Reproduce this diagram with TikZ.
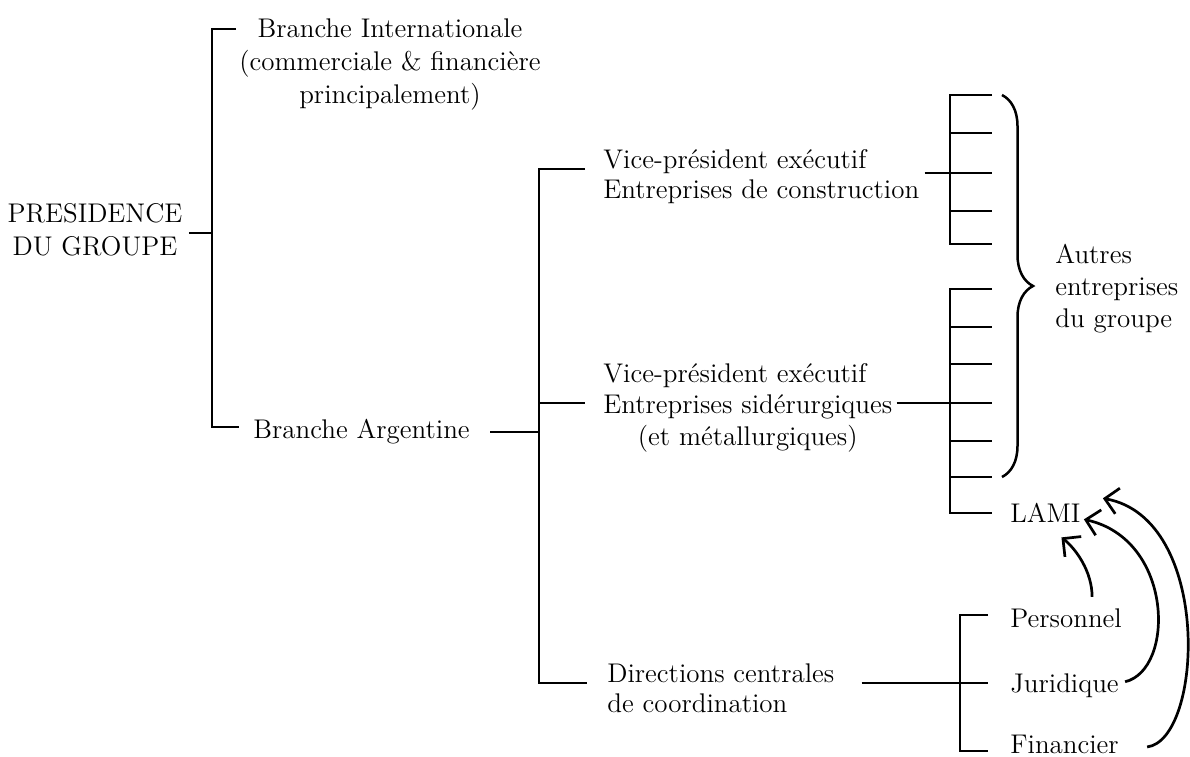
\documentclass[tikz,border=0pt]{standalone}
\usetikzlibrary{arrows.meta,decorations.pathreplacing}
\newcommand\blk[2]{\begin{tabular}[t]{@{}#1@{}}#2\end{tabular}}
\begin{document}
\begin{tikzpicture}[x=0.5pt,y=-0.5pt,
  every node/.style={inner sep=0pt,font=\fontsize{13.5}{15.25}\selectfont},
  br/.style={line width=1.35pt},
  ln/.style={line width=1pt},
  arr/.style={line width=1.35pt,-{Straight Barb[length=6.5pt,width=13pt,line width=1.35pt]}},
  bracestyle/.style={line width=1.25pt,decorate,decoration={brace,amplitude=15.5pt}}]
\useasboundingbox (0,0) rectangle (1190,756);

% texts
\node[anchor=base] (pres) at (95,222) {\blk{c}{PRESIDENCE\\[1.25pt]DU GROUPE}};
\node[anchor=base] (bint) at (390,37) {\blk{c}{Branche Internationale\\[1.25pt](commerciale \& financière\\[1.25pt]principalement)}};
\node[anchor=base west] (barg) at (253,438) {Branche Argentine};
\node[anchor=base west] (vp1) at (603,168) {\blk{l}{Vice-président exécutif\\Entreprises de construction}};
\node[anchor=base west] (vp2) at (603,382) {\blk{l}{Vice-président exécutif\\[0.5pt]Entreprises sidérurgiques\\[0.5pt]\multicolumn{1}{@{}c@{}}{(et métallurgiques)}}};
\node[anchor=base west] (dir) at (607,682) {\blk{l}{Directions centrales\\de coordination}};
\node[anchor=base west] (autres) at (1055,263) {\blk{l}{Autres\\[0.75pt]entreprises\\[0.75pt]du groupe}};
\node[anchor=base west] (lami) at (1010,522) {LAMI};
\node[anchor=base west] (pers) at (1010,627) {Personnel};
\node[anchor=base west] (jur) at (1010,692) {Juridique};
\node[anchor=base west] (fin) at (1010,753) {Financier};

% level 1 bracket
\coordinate (p1) at (212,29);
\coordinate (p0) at (212,233);
\coordinate (p2) at (212,427);
\draw[br] (236,29) -- (p1) -- (p2) -- (239,427);
\draw[br] ([xshift=3pt]pres.east |- p0) -- (p0);

% level 2 bracket
\coordinate (q1) at (539,169);
\coordinate (q2) at (539,403);
\coordinate (qa) at (539,432);
\coordinate (q3) at (539,683);
\draw[br] (585,169) -- (q1) -- (q3) -- (587,683);
\draw[br] (q2) -- (585,403);
\draw[ln] ([xshift=10pt]barg.east |- qa) -- (qa);

% group 1 (construction)
\coordinate (r1) at (950,173);
\draw[br] (992,95) -- (950,95) -- (950,244) -- (992,244);
\foreach \yy in {133,173,211} \draw[br] (950,\yy) -- (992,\yy);
\draw[ln] ([xshift=2.5pt]vp1.east |- r1) -- (r1);

% group 2 (siderurgie)
\coordinate (r2) at (950,403);
\draw[br] (992,289) -- (950,289) -- (950,513) -- (992,513);
\foreach \yy in {327,364,403,441,477} \draw[br] (950,\yy) -- (992,\yy);
\draw[ln] ([xshift=2pt]vp2.east |- r2) -- (r2);

% directions bracket
\coordinate (s1) at (960,683);
\draw[br] (988,615) -- (960,615) -- (960,751) -- (988,751);
\draw[br] (s1) -- (988,683);
\draw[ln] ([xshift=13.5pt]dir.east |- s1) -- (s1);

% brace
\draw[bracestyle] (1002,95) -- (1002,477);

% arrows to LAMI
\draw[arr] ([shift={(13pt,5.5pt)}]pers.north) .. controls +(0,-25) and +(15,12) .. ([shift={(8pt,-7.5pt)}]lami.south);
\draw[arr] ([shift={(3pt,1.75pt)}]jur.east) .. controls +(50,-12) and +(90,20) .. ([shift={(1.5pt,-3.5pt)}]lami.east);
\draw[arr] ([shift={(14pt,-1.5pt)}]fin.east) .. controls +(56,-7) and +(110,20) .. ([shift={(11pt,2pt)}]lami.north east);
\end{tikzpicture}
\end{document}
